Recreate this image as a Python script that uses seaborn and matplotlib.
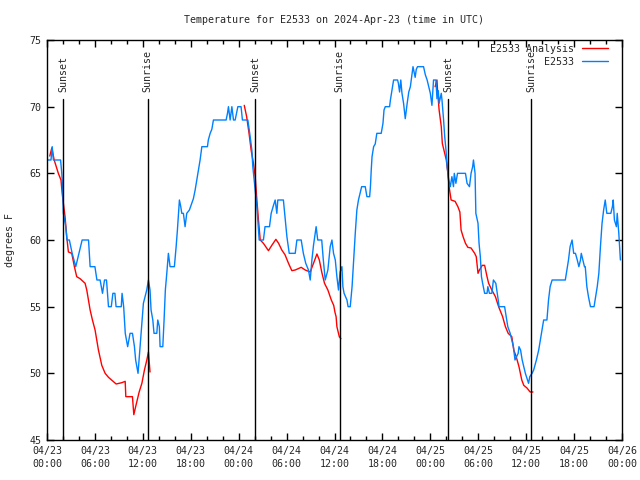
import pandas as pd
import numpy as np
import matplotlib
matplotlib.use('Agg')
import matplotlib.pyplot as plt
import matplotlib.dates as mdates
import matplotlib.transforms as mtransforms
import seaborn as sns

# Observations (hours after 2024-04-23 00:00 UTC, deg F)
obs_hours = [0.1, 0.5, 0.65, 0.8, 1.7, 1.85, 1.95, 2.05, 2.35, 2.5, 2.8, 3.15, 3.6, 4.0, 4.4, 5.2,
             5.4, 6.0, 6.25, 6.65, 6.95, 7.2, 7.45, 7.7, 8.05, 8.25, 8.5, 8.65, 9.3, 9.4, 9.6, 9.8,
             10.1, 10.4, 10.7, 10.95, 11.1, 11.4, 11.65, 11.87, 12.07, 12.28, 12.49, 12.7, 12.9,
             13.03, 13.25, 13.4, 13.75, 13.87, 14.07, 14.16, 14.5, 14.66, 14.82, 15.0, 15.2, 15.41,
             15.95, 16.17, 16.33, 16.58, 16.75, 16.88, 17.08, 17.29, 17.5, 17.83, 18.13, 18.33,
             18.55, 18.76, 18.96, 19.17, 19.39, 20.09, 20.2, 20.43, 20.64, 20.84, 22.43, 22.6,
             22.72, 22.93, 23.15, 23.35, 23.56, 23.9, 24.3, 24.47, 25.15, 25.44, 25.65, 25.77,
             25.94, 26.07, 26.28, 26.4, 26.57, 27.1, 27.3, 27.86, 28.07, 28.36, 28.57, 28.78, 28.9,
             29.6, 29.8, 30.04, 30.33, 31.08, 31.29, 31.83, 32.1, 32.4, 32.74, 32.96, 33.17, 33.37,
             33.7, 33.9, 34.4, 34.6, 34.84, 35.17, 35.46, 35.68, 35.88, 36.1, 36.3, 36.5, 36.7,
             36.93, 37.05, 37.2, 37.56, 37.7, 37.97, 38.2, 38.4, 38.6, 38.8, 39.0, 39.2, 39.4,
             39.85, 40.06, 40.4, 40.5, 40.6, 40.7, 40.9, 41.1, 41.3, 41.85, 42.07, 42.2, 42.36,
             42.9, 43.0, 43.2, 43.4, 43.9, 44.0, 44.15, 44.3, 44.45, 44.65, 44.86, 45.1, 45.3,
             45.5, 45.7, 45.83, 46.1, 46.24, 46.4, 47.15, 47.37, 47.6, 47.8, 48.0, 48.2, 48.4,
             48.7, 48.83, 49.0, 49.1, 49.37, 49.46, 49.66, 49.8, 49.96, 50.1, 50.3, 50.5, 50.7,
             50.9, 51.0, 51.2, 51.4, 52.4, 52.6, 52.9, 53.1, 53.3, 53.4, 53.6, 53.7, 53.97, 54.1,
             54.26, 54.4, 54.55, 54.8, 55.1, 55.2, 55.4, 55.7, 55.9, 56.2, 56.5, 56.6, 57.3, 57.5,
             57.7, 58.0, 58.2, 58.4, 58.6, 59.0, 59.1, 59.3, 59.5, 59.9, 60.3, 60.45, 60.74, 60.94,
             61.28, 61.57, 61.78, 61.99, 62.19, 62.6, 62.8, 63.0, 63.25, 64.9, 65.1, 65.3, 65.5,
             65.75, 65.95, 66.17, 66.4, 66.6, 66.8, 66.9, 67.1, 67.3, 67.4, 67.6, 67.8, 68.05,
             68.5, 68.7, 68.9, 69.1, 69.3, 69.5, 69.7, 69.9, 70.1, 70.6, 70.8, 70.9, 71.05, 71.3,
             71.4, 71.5, 71.6, 71.8]
obs_temps = [66, 66, 67, 66, 66, 65, 64, 62, 61, 60, 60, 59, 58, 59, 60, 60,
             58, 58, 57, 57, 56, 57, 57, 55, 55, 56, 56, 55, 55, 56, 55, 53,
             52, 53, 53, 52, 51, 50, 52, 53.75, 55.25, 55.75, 56.25, 57, 56.25,
             54.75, 54, 53, 53, 54, 53.5, 52, 52, 54, 56.25, 57.5, 59, 58,
             58, 59.5, 60.75, 63, 62.5, 62, 62, 61, 62, 62.25, 62.75, 63.1,
             63.75, 64.5, 65.25, 66, 67, 67, 67.5, 68, 68.3, 69, 69, 69.5,
             70, 69, 70, 69, 69, 70, 70, 69, 69, 67.75, 66.75, 65.5,
             64.5, 63.75, 62.5, 61.5, 60, 60, 61, 61, 62, 62.6, 63, 62, 63,
             63, 61.75, 60.25, 59, 59, 60, 60, 59, 58.25, 57.75, 57, 58.5, 59.6,
             61, 60, 60, 58.5, 57, 57.75, 59.5, 60, 59, 58.5, 57.25, 56.25, 57.6,
             58, 56.5, 56, 55.5, 55, 55, 56.5, 58.5, 60.5, 62.25, 63, 63.5, 64,
             64, 63.25, 63.25, 64, 65.25, 66.25, 67, 67.2, 68, 68, 68.75, 69.75, 70,
             70, 70.5, 71.25, 72, 72, 71.75, 71.1, 72, 71, 70.25, 69.1, 70.25, 71.1,
             71.5, 72.4, 73, 72.2, 72.8, 73, 73, 72.4, 72, 71.5, 71, 70.1, 72,
             72, 70.6, 71.2, 70.25, 71, 70.5, 69, 67.75, 66.75, 65.5, 64.5, 64, 64.75,
             64, 65, 64.25, 65, 65, 64.25, 64, 65, 65.5, 66, 65, 62, 61.25, 59.75,
             58.75, 57.25, 56.75, 56, 56, 56.5, 56, 56, 57, 56.75, 55.5, 55, 55, 54.25,
             53.5, 53, 52.5, 52, 51, 51.5, 52, 51.75, 51, 50, 49.25, 49.75, 50, 50.25,
             51, 51.75, 52.5, 53.25, 54, 54, 55.5, 56.5, 57, 57, 57.75, 58.5, 59.5,
             60, 59, 59, 58.5, 58, 58.5, 59, 58.5, 58, 58, 56.5, 55.75, 55,
             55, 55.75, 56.5, 57.5, 59.5, 61.25, 62.25, 63, 62, 62, 62.5, 63, 61.5, 61,
             62, 61.25, 60.5, 58.5]

# Analysis runs (three separate night segments)
ana_hours_1 = [0.35, 0.6, 0.9, 1.42, 1.75, 1.9, 2.05, 2.26, 2.47, 2.68, 3.1, 3.43, 3.72, 4.14,
               4.77, 4.98, 5.4, 5.69, 6.02, 6.44, 6.86, 7.28, 7.7, 8.66, 9.37, 9.79, 9.87, 10.7,
               10.87, 11.1, 11.54, 11.88, 12.2, 12.5, 12.7, 12.9]
ana_temps_1 = [66.3, 66.9, 66.0, 65, 64.5, 63.5, 62.75, 61.75, 60.25, 59.1, 59, 58, 57.25, 57.1,
               56.75, 56.25, 54.75, 54, 53.25, 51.75, 50.6, 50, 49.7, 49.2, 49.3, 49.4, 48.25, 48.25,
               46.9, 47.5, 48.6, 49.25, 50.25, 51, 51.6, 50.1]
ana_hours_2 = [24.7, 25.0, 25.3, 25.56, 25.85, 26.07, 26.28, 26.48, 26.7, 27.1, 27.73, 28.15,
               28.66, 29.0, 29.4, 29.8, 30.24, 30.66, 31.08, 31.83, 32.33, 32.96, 33.37, 33.8,
               34.1, 34.4, 34.75, 35.17, 35.6, 35.9, 36.05, 36.2, 36.3, 36.6, 36.8]
ana_temps_2 = [70.1, 69.25, 68, 66.75, 65.75, 64.75, 63, 61.5, 60, 59.75, 59.2, 59.6,
               60.05, 59.75, 59.25, 58.9, 58.25, 57.7, 57.75, 57.95, 57.75, 57.6, 58.25, 58.95,
               58.5, 57.6, 56.75, 56.25, 55.5, 55.1, 54.6, 54.25, 53.5, 52.75, 52.6]
ana_hours_3 = [48.6, 48.83, 48.9, 49.1, 49.37, 49.5, 49.8, 50.0, 50.2, 50.35, 50.6, 51.1, 51.45,
               51.7, 51.85, 52.1, 52.4, 52.7, 53.1, 53.55, 53.75, 53.97, 54.15, 54.5, 54.8, 55.1,
               55.3, 55.7, 56.15, 56.55, 57.05, 57.4, 57.75, 58.2, 58.45, 58.75, 59.1, 59.45,
               59.7, 60.1, 60.5, 60.85]
ana_temps_3 = [71.5, 72, 71.25, 69.75, 68.5, 67.25, 66.5, 66, 65, 64, 63, 62.9, 62.5,
               62.1, 60.75, 60.25, 59.75, 59.45, 59.4, 59, 58.75, 57.5, 57.75, 58.1, 58.1, 57.25,
               56.75, 56.25, 55.75, 55, 54.25, 53.5, 53, 52.75, 51.75, 51.25, 50.5, 49.5,
               49.1, 48.9, 48.6, 48.6]

sun_events = ['Sunset', 'Sunrise', 'Sunset', 'Sunrise', 'Sunset', 'Sunrise']
sun_hours = [2.05, 12.6, 26.1, 36.65, 50.2, 60.65]

start = pd.Timestamp('2024-04-23 00:00')
def to_time(hours):
    return start + pd.to_timedelta(hours, unit='h')

obs = pd.DataFrame({'time': to_time(obs_hours), 'temp': obs_temps})
ana_segments = [(ana_hours_1, ana_temps_1), (ana_hours_2, ana_temps_2), (ana_hours_3, ana_temps_3)]

sns.set_style('ticks')
plt.rcParams['font.family'] = ['DejaVu Sans Mono']
fs = 7.2

fig = plt.figure(figsize=(6.4, 4.8), dpi=100)
ax = fig.add_axes([47 / 640, 40 / 480, 575 / 640, 400 / 480])

for i, (h, t) in enumerate(ana_segments):
    seg = pd.DataFrame({'time': to_time(h), 'temp': t})
    sns.lineplot(data=seg, x='time', y='temp', ax=ax, color='#ff0000', linewidth=1.0,
                 sort=False, estimator=None, label='E2533 Analysis' if i == 0 else None)
sns.lineplot(data=obs, x='time', y='temp', ax=ax, color='#0080ff', linewidth=1.0,
             sort=False, estimator=None, label='E2533')

trans = mtransforms.blended_transform_factory(ax.transData, ax.transAxes)
for name, h in zip(sun_events, sun_hours):
    t = mdates.date2num(to_time(h))
    ax.axvline(t, ymin=0, ymax=0.852, color='black', linewidth=1.0)
    ax.text(t, 0.87, name, rotation=90, ha='center', va='bottom', transform=trans, fontsize=fs)

ax.set_xlim(start, start + pd.Timedelta(hours=72))
ax.set_ylim(45, 75)
ax.set_yticks([45, 50, 55, 60, 65, 70, 75])
ax.xaxis.set_major_locator(mdates.HourLocator(byhour=[0, 6, 12, 18]))
ax.xaxis.set_minor_locator(mdates.HourLocator(byhour=range(0, 24, 2)))
ax.xaxis.set_major_formatter(mdates.DateFormatter('%m/%d\n%H:%M'))
ax.tick_params(which='both', direction='in', top=True, right=True, labelsize=fs, color='black')
ax.tick_params(which='major', length=5, width=1, pad=4)
ax.tick_params(which='minor', length=3, width=1)
for s in ax.spines.values():
    s.set_color('black')
    s.set_linewidth(1)
ax.set_xlabel('')
ax.set_ylabel('')
for lbl in ax.get_xticklabels():
    lbl.set_linespacing(1.45)

fig.text(10 / 640, 0.5, 'degrees F', rotation=90, ha='center', va='center', fontsize=fs)
fig.text(334.5 / 640, 1 - 20 / 480, 'Temperature for E2533 on 2024-Apr-23 (time in UTC)',
         ha='center', va='center', fontsize=fs)

leg = ax.legend(loc='upper right', bbox_to_anchor=(1 - 10 / 575, 1), frameon=False,
                markerfirst=False, fontsize=fs, handlelength=2.6, handletextpad=0.8,
                labelspacing=0.3, borderaxespad=0.2, borderpad=0.2)

fig.savefig('out.png', dpi=100)
